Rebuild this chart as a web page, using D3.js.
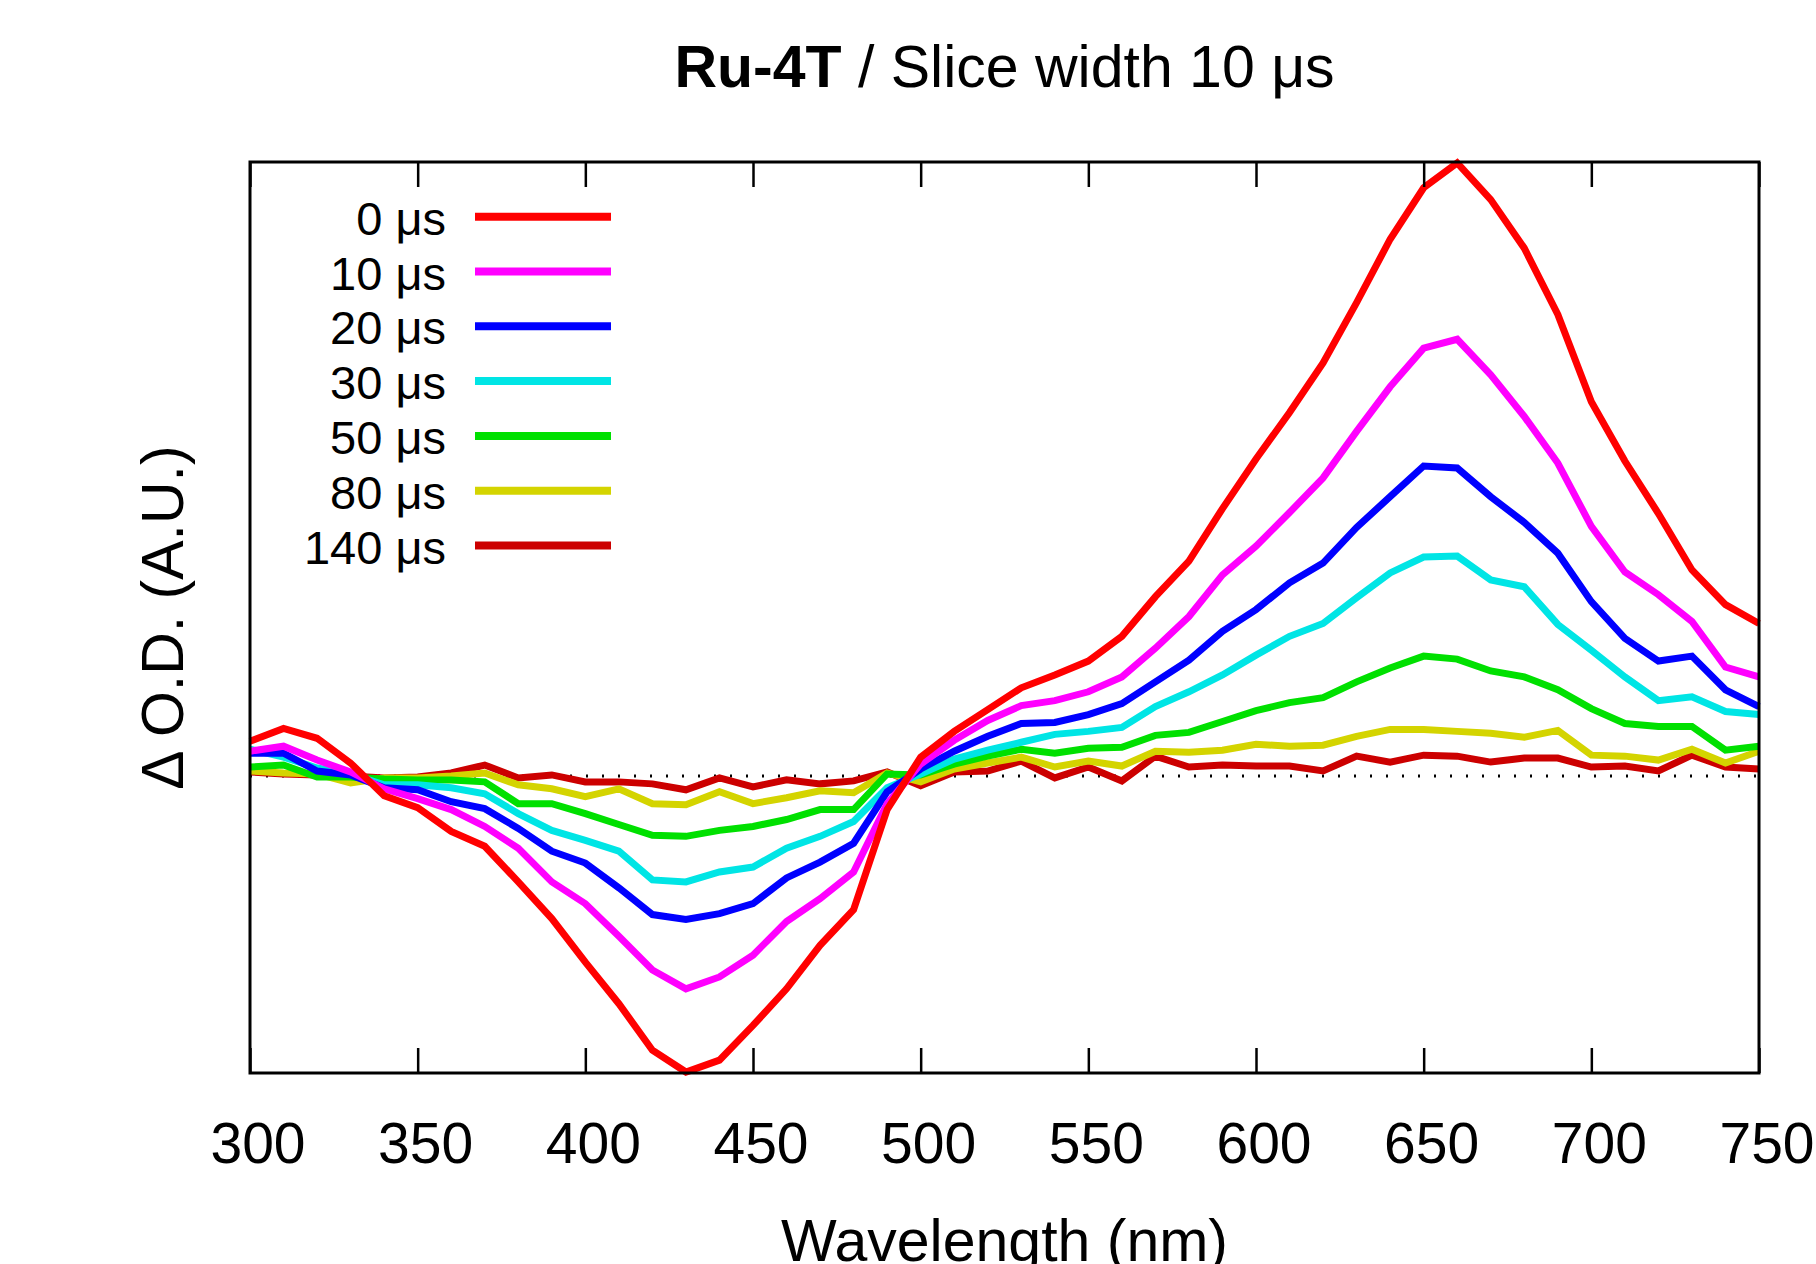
<!DOCTYPE html>
<html>
<head>
<meta charset="utf-8">
<script src="https://cdn.jsdelivr.net/npm/d3@7"></script>
<style>
  html, body { margin: 0; padding: 0; background: #ffffff; }
  svg { display: block; }
  text { font-family: "Liberation Sans", Arial, sans-serif; fill: #000; }
</style>
</head>
<body>
<script>
// ---- Data ----
const wavelengths = d3.range(300, 751, 10);
const seriesLabels = ["0 μs", "10 μs", "20 μs", "30 μs", "50 μs", "80 μs", "140 μs"];
const seriesColors = ["#ff0000", "#ff00ff", "#0000ff", "#00e5e5", "#00e000", "#d4d400", "#cc0000"];

const od0 = [0.35, 0.48, 0.38, 0.13, -0.20, -0.32, -0.56, -0.71, -1.07, -1.44, -1.88, -2.30, -2.77, -2.99, -2.87, -2.52, -2.15, -1.71, -1.35, -0.34, 0.19, 0.45, 0.67, 0.89, 1.02, 1.16, 1.41, 1.81, 2.17, 2.70, 3.20, 3.67, 4.17, 4.78, 5.42, 5.94, 6.19, 5.82, 5.33, 4.66, 3.78, 3.18, 2.65, 2.08, 1.73, 1.54];
const od10 = [0.25, 0.30, 0.16, 0.04, -0.13, -0.23, -0.34, -0.51, -0.73, -1.07, -1.29, -1.62, -1.96, -2.15, -2.03, -1.81, -1.47, -1.24, -0.97, -0.28, 0.12, 0.36, 0.56, 0.71, 0.76, 0.85, 1.00, 1.29, 1.61, 2.03, 2.32, 2.66, 3.01, 3.48, 3.93, 4.32, 4.41, 4.05, 3.63, 3.16, 2.52, 2.06, 1.83, 1.56, 1.10, 1.00];
const od20 = [0.23, 0.23, 0.05, 0.01, -0.12, -0.14, -0.26, -0.33, -0.53, -0.76, -0.88, -1.13, -1.40, -1.45, -1.39, -1.29, -1.03, -0.87, -0.68, -0.16, 0.07, 0.25, 0.40, 0.53, 0.54, 0.62, 0.73, 0.95, 1.17, 1.46, 1.68, 1.95, 2.15, 2.51, 2.82, 3.13, 3.11, 2.82, 2.56, 2.25, 1.76, 1.39, 1.16, 1.21, 0.87, 0.70];
const od30 = [0.27, 0.19, 0.08, 0.02, -0.09, -0.09, -0.12, -0.18, -0.38, -0.55, -0.65, -0.76, -1.05, -1.07, -0.97, -0.92, -0.73, -0.61, -0.46, -0.12, 0.02, 0.17, 0.26, 0.34, 0.42, 0.45, 0.49, 0.70, 0.85, 1.02, 1.22, 1.41, 1.54, 1.80, 2.05, 2.21, 2.22, 1.98, 1.91, 1.53, 1.27, 1.00, 0.76, 0.80, 0.65, 0.62];
const od50 = [0.09, 0.11, -0.01, -0.01, -0.03, -0.04, -0.04, -0.06, -0.28, -0.28, -0.38, -0.49, -0.60, -0.61, -0.55, -0.51, -0.44, -0.34, -0.34, 0.02, 0.01, 0.12, 0.20, 0.27, 0.23, 0.28, 0.29, 0.41, 0.44, 0.55, 0.66, 0.74, 0.79, 0.95, 1.09, 1.21, 1.18, 1.06, 1.00, 0.87, 0.68, 0.53, 0.50, 0.50, 0.26, 0.30];
const od80 = [0.05, 0.03, 0.02, -0.07, -0.02, -0.02, 0.00, 0.03, -0.09, -0.13, -0.21, -0.13, -0.28, -0.29, -0.16, -0.28, -0.22, -0.15, -0.17, 0.03, -0.06, 0.07, 0.13, 0.19, 0.09, 0.15, 0.10, 0.25, 0.24, 0.26, 0.32, 0.30, 0.31, 0.40, 0.47, 0.47, 0.45, 0.43, 0.39, 0.46, 0.21, 0.20, 0.16, 0.27, 0.13, 0.25];
const od140 = [0.04, 0.02, 0.01, 0.00, -0.02, -0.01, 0.03, 0.11, -0.02, 0.01, -0.06, -0.06, -0.08, -0.14, -0.02, -0.11, -0.04, -0.08, -0.05, 0.04, -0.10, 0.04, 0.05, 0.15, -0.02, 0.09, -0.05, 0.20, 0.09, 0.11, 0.10, 0.10, 0.05, 0.20, 0.14, 0.21, 0.20, 0.14, 0.18, 0.18, 0.09, 0.10, 0.05, 0.21, 0.09, 0.07];

const seriesValues = [od0, od10, od20, od30, od50, od80, od140];
const xTicks = [300, 350, 400, 450, 500, 550, 600, 650, 700, 750];
const titleBold = "Ru-4T";
const titleRest = " / Slice width 10 μs";
const xLabel = "Wavelength (nm)";
const yLabel = "Δ O.D. (A.U.)";

// ---- Layout ----
const W = 1816, H = 1264;
const L = 250, R = 1759, T = 162, B = 1073;

const svg = d3.select("body").append("svg").attr("width", W).attr("height", H);

const x = d3.scaleLinear().domain([300, 750]).range([L, R]);
const y = d3.scaleLinear().domain([-3.0, 6.2]).range([B, T]);

// zero line (dotted)
svg.append("line")
  .attr("x1", L).attr("x2", R)
  .attr("y1", y(0)).attr("y2", y(0))
  .attr("stroke", "#000").attr("stroke-width", 3)
  .attr("stroke-dasharray", "2 14");

// series (drawn last-to-first so 0 μs is on top)
const line = d3.line().x((d, i) => x(wavelengths[i])).y(d => y(d));
const order = d3.range(seriesValues.length).reverse();
svg.append("g").selectAll("path")
  .data(order)
  .join("path")
  .attr("d", i => line(seriesValues[i]))
  .attr("fill", "none")
  .attr("stroke", i => seriesColors[i])
  .attr("stroke-width", 7)
  .attr("stroke-linejoin", "miter")
  .attr("stroke-miterlimit", 3);

// axes ticks (inward, bottom and top)
const tickLen = 25;
const bottomAxis = d3.axisBottom(x).tickValues(xTicks).tickSize(-tickLen).tickFormat("");
const topAxis = d3.axisTop(x).tickValues(xTicks).tickSize(-tickLen).tickFormat("");
const gb = svg.append("g").attr("transform", `translate(0,${B})`).call(bottomAxis);
const gt = svg.append("g").attr("transform", `translate(0,${T})`).call(topAxis);
[gb, gt].forEach(g => {
  g.select(".domain").remove();
  g.selectAll(".tick line").attr("stroke", "#000").attr("stroke-width", 2.5);
});

// tick labels
svg.append("g").selectAll("text")
  .data(xTicks)
  .join("text")
  .attr("x", d => x(d) + 8)
  .attr("y", 1163)
  .attr("text-anchor", "middle")
  .attr("font-size", 57)
  .text(d => d);

// frame
svg.append("rect")
  .attr("x", L).attr("y", T)
  .attr("width", R - L).attr("height", B - T)
  .attr("fill", "none").attr("stroke", "#000").attr("stroke-width", 3);

// title
const title = svg.append("text")
  .attr("x", (L + R) / 2).attr("y", 87)
  .attr("text-anchor", "middle")
  .attr("font-size", 59);
title.append("tspan").attr("font-weight", "bold").text(titleBold);
title.append("tspan").text(titleRest);

// x label
svg.append("text")
  .attr("x", (L + R) / 2).attr("y", 1261)
  .attr("text-anchor", "middle")
  .attr("font-size", 59)
  .text(xLabel);

// y label
svg.append("text")
  .attr("transform", `translate(183,${(T + B) / 2}) rotate(-90)`)
  .attr("text-anchor", "middle")
  .attr("font-size", 59)
  .text(yLabel);

// legend
const legY0 = 216.7, legDY = 54.8;
const leg = svg.append("g").selectAll("g")
  .data(seriesLabels.map((s, i) => i))
  .join("g")
  .attr("transform", i => `translate(0,${legY0 + i * legDY})`);
leg.append("text")
  .attr("x", 446).attr("y", 18)
  .attr("text-anchor", "end")
  .attr("font-size", 47)
  .text(i => seriesLabels[i]);
leg.append("line")
  .attr("x1", 475).attr("x2", 611)
  .attr("y1", 0).attr("y2", 0)
  .attr("stroke", i => seriesColors[i])
  .attr("stroke-width", 8);
</script>
</body>
</html>
